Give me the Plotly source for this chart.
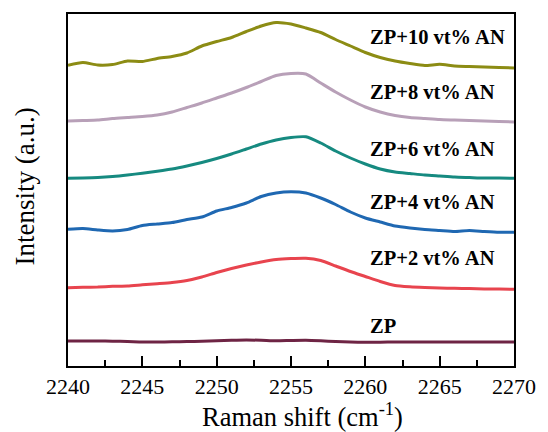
import plotly.graph_objects as go

raman_shift = list(range(2240, 2271))

zp = [25, 25, 25, 24.8, 24.5, 24, 24, 24.2, 24.5, 24.7, 25.2, 25.7, 26, 25.7, 25.2, 25.5,
      25.7, 25.2, 24.5, 24, 23.7, 23.8, 24, 24, 24, 24, 24, 24, 24, 24, 24]
zp_2 = [78.3, 78.7, 79, 79.7, 80, 81.2, 82.3, 83.5, 85.5, 89, 93.5, 97.5, 101, 104, 106.5, 107.5,
        107.8, 105.5, 100, 94.5, 89.5, 84.5, 80.5, 79.2, 78.5, 78, 77.7, 77.4, 77.1, 76.9, 76.7]
zp_4 = [136.7, 137.5, 136, 135, 136.5, 140.5, 142, 143.5, 146.5, 149, 155, 158.5, 163, 169.5, 173,
        174.2, 173, 168, 161.5, 154, 148, 144, 140, 138, 136.5, 135.5, 134.5, 135.5, 134.5, 133.7, 133.7]
zp_6 = [187.7, 188, 188.5, 189.5, 191, 192.8, 194.8, 197, 200, 203.5, 207.5, 212, 217, 222, 226,
        228.5, 229.2, 223, 215, 208, 202, 197, 194, 192.5, 191, 190, 189, 188.5, 188, 188, 187.7]
zp_8 = [245, 245.5, 246, 247.5, 248.5, 249.5, 251, 254, 258.5, 263, 268, 273, 278.5, 284.5, 290.5,
        292.5, 292, 283, 274, 266, 259, 254, 250.5, 248.5, 247.5, 246.5, 246, 245.5, 245, 244.5, 244]
zp_10 = [300.7, 303.5, 301, 301.5, 305, 304.5, 307.5, 309.5, 313, 320, 324.5, 328.5, 334.5, 340,
         343.5, 342, 338, 333.5, 326.5, 320, 313.5, 308.5, 305, 302.5, 300.5, 301.7, 300, 299.5,
         299, 298.5, 298]

series_names = ["ZP", "ZP+2 vt% AN", "ZP+4 vt% AN", "ZP+6 vt% AN", "ZP+8 vt% AN", "ZP+10 vt% AN"]
series_values = [zp, zp_2, zp_4, zp_6, zp_8, zp_10]
colors = ["#6e2444", "#e8444e", "#1f68b2", "#168a80", "#b8a0b8", "#8c8c14"]
label_x = [2260.2] * 6
label_y = [40.3, 108, 164.3, 217, 274.3, 329]

x_ticks = [2240, 2245, 2250, 2255, 2260, 2265, 2270]

SERIF = "Liberation Serif"

fig = go.Figure()
for name, vals, col in zip(series_names, series_values, colors):
    fig.add_trace(go.Scatter(x=raman_shift, y=vals, mode="lines", name=name,
                             line=dict(color=col, width=3, shape="spline", smoothing=0.6)))

for name, lx, ly in zip(series_names, label_x, label_y):
    fig.add_annotation(x=lx, y=ly, xref="x", yref="y", text="<b>" + name + "</b>", showarrow=False,
                       xanchor="left", yanchor="middle",
                       font=dict(family=SERIF, size=20.5, color="black"))

fig.add_annotation(x=0.5, y=0, xref="paper", yref="paper", xshift=11, yshift=-49,
                   text="Raman shift (cm<sup>-1</sup>)", showarrow=False,
                   xanchor="center", yanchor="middle",
                   font=dict(family=SERIF, size=26.5, color="black"))
fig.add_annotation(x=0, y=0.51, xref="paper", yref="paper", xshift=-43,
                   text="Intensity (a.u.)", showarrow=False, textangle=-90,
                   xanchor="center", yanchor="middle",
                   font=dict(family=SERIF, size=27, color="black"))

fig.update_layout(
    width=548, height=432,
    margin=dict(l=68, r=24, t=14, b=66),
    plot_bgcolor="white", paper_bgcolor="white",
    showlegend=False,
    font=dict(family=SERIF, color="black"),
)
fig.update_xaxes(range=[2240, 2270], tickvals=x_ticks, ticks="inside", ticklen=10, tickwidth=1.5,
                 tickcolor="black", showline=True, linecolor="black", linewidth=1.5, mirror=True,
                 showgrid=False, zeroline=False,
                 tickfont=dict(family=SERIF, size=22, color="black"),
                 minor=dict(dtick=2.5, tick0=2240, ticks="inside", ticklen=6, tickwidth=1.5,
                            tickcolor="black", showgrid=False))
fig.update_yaxes(range=[0, 352], showticklabels=False, ticks="", showline=True, linecolor="black",
                 linewidth=1.5, mirror=True, showgrid=False, zeroline=False)

fig.write_html("out.html")
